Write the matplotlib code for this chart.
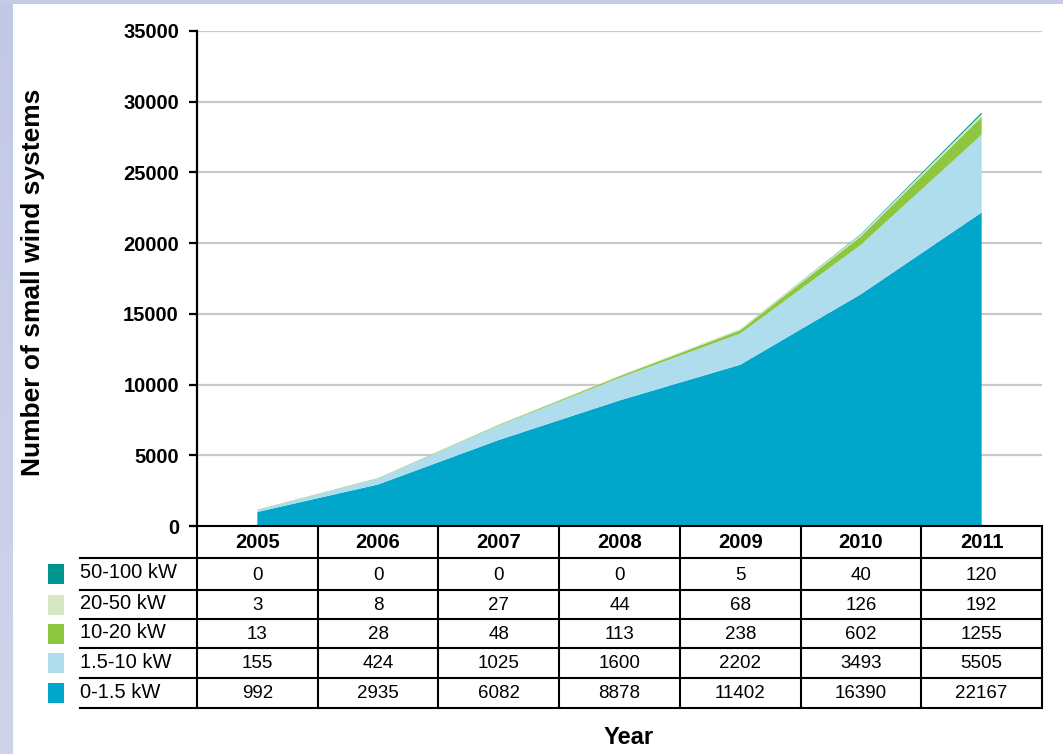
import numpy as np
import matplotlib
matplotlib.use("Agg")
import matplotlib.pyplot as plt
from matplotlib.patches import Rectangle
from matplotlib.transforms import blended_transform_factory

# installed small wind systems by size class
years = ["2005", "2006", "2007", "2008", "2009", "2010", "2011"]
classes = ["0-1.5 kW", "1.5-10 kW", "10-20 kW", "20-50 kW", "50-100 kW"]
kw_0_1_5 = [992, 2935, 6082, 8878, 11402, 16390, 22167]
kw_1_5_10 = [155, 424, 1025, 1600, 2202, 3493, 5505]
kw_10_20 = [13, 28, 48, 113, 238, 602, 1255]
kw_20_50 = [3, 8, 27, 44, 68, 126, 192]
kw_50_100 = [0, 0, 0, 0, 5, 40, 120]
colors = ["#00a7ca", "#afdded", "#8dc63f", "#d6e8c3", "#00968f"]
yticks = [0, 5000, 10000, 15000, 20000, 25000, 30000, 35000]

series = [kw_0_1_5, kw_1_5_10, kw_10_20, kw_20_50, kw_50_100]
sans = ["Liberation Sans", "DejaVu Sans"]

W, H = 1063, 754
fig = plt.figure(figsize=(W / 100, H / 100), dpi=100)
fig.patch.set_facecolor("white")

# bluish frame strips on the left and top
bg = fig.add_axes([0, 0, 1, 1], zorder=-5)
bg.set_xlim(0, W)
bg.set_ylim(H, 0)
bg.axis("off")
grad = np.linspace(0, 1, 256).reshape(-1, 1)
bg.imshow(grad, extent=(0, 13, H, 0), cmap=matplotlib.colors.LinearSegmentedColormap.from_list(
    "frame", ["#c2c9e6", "#cfd4ea"]), aspect="auto")
bg.add_patch(Rectangle((0, 0), W, 4, color="#c4cbe7", lw=0))

# main area chart
x = np.arange(len(years))
left, right, top, bottom = 197, 1042, 31, 526
ax = fig.add_axes([left / W, 1 - bottom / H, (right - left) / W, (bottom - top) / H])
ax.stackplot(x, *series, colors=colors, lw=0, zorder=3)
ax.set_xlim(-0.5, len(years) - 0.5)
ax.set_ylim(0, 35000)
ax.set_yticks(yticks)
ax.set_yticklabels([str(t) for t in yticks], fontsize=14.5, fontweight="bold", family=sans)
for t in yticks[1:]:
    ax.axhline(t, color="#c9c9c9", lw=1.6, zorder=1)
ax.set_xticks([])
for s in ["top", "right", "bottom"]:
    ax.spines[s].set_visible(False)
ax.spines["left"].set_linewidth(1.6)
ax.tick_params(axis="y", length=6, width=1.6, pad=7)
ax.set_facecolor("none")

fig.text(33 / W, 1 - 282 / H, "Number of small wind systems", rotation=90,
         ha="center", va="center", fontsize=19, fontweight="bold", family=sans)

# data table underneath, columns aligned with the years
tab = fig.add_axes([0, 0, 1, 1], zorder=5)
tab.set_xlim(0, W)
tab.set_ylim(H, 0)
tab.axis("off")
tr = blended_transform_factory(ax.transData, tab.transData)

row_edges = [526, 558, 590, 619, 648, 678, 708]
lw = 1.5
tab.plot([190, right], [row_edges[0]] * 2, color="black", lw=lw)
for ye in row_edges[1:]:
    tab.plot([80, right], [ye, ye], color="black", lw=lw)
for xe in np.arange(len(years) + 1) - 0.5:
    tab.plot([xe, xe], [row_edges[0], row_edges[-1]], color="black", lw=lw, transform=tr)

hdr_y = (row_edges[0] + row_edges[1]) / 2
for i, yr in enumerate(years):
    tab.text(i, hdr_y + 1, yr, transform=tr, ha="center", va="center",
             fontsize=14.5, fontweight="bold", family=sans)

# rows listed top-down: largest class first
for r, (name, vals, col) in enumerate(zip(classes[::-1], series[::-1], colors[::-1])):
    cy = (row_edges[r + 1] + row_edges[r + 2]) / 2
    tab.add_patch(Rectangle((48, cy - 10), 16, 20, color=col, lw=0))
    tab.text(80, cy - 1, name, ha="left", va="center", fontsize=14.5, family=sans)
    for i, v in enumerate(vals):
        tab.text(i, cy + 1, str(v), transform=tr, ha="center", va="center",
                 fontsize=13.5, family=sans)

tab.text(629, 738, "Year", ha="center", va="center", fontsize=17, fontweight="bold",
         family=sans)

fig.savefig("out.png", dpi=100, facecolor=fig.get_facecolor())
